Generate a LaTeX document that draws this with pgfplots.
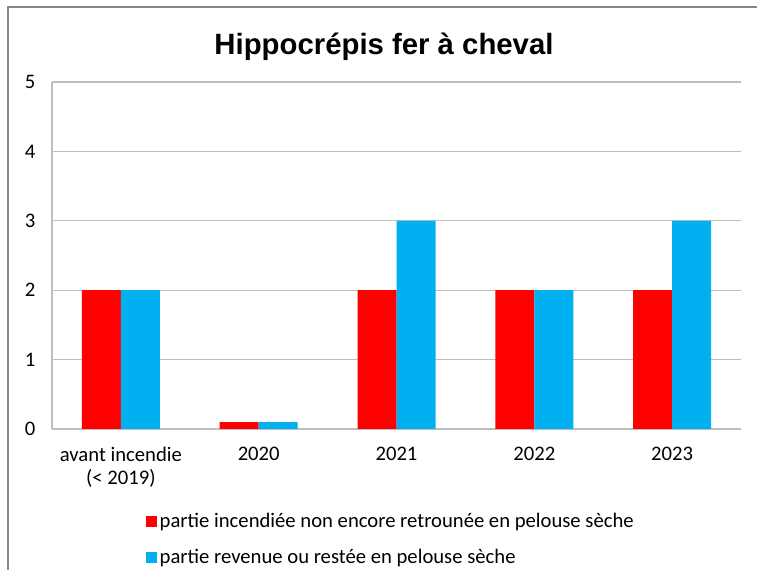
\documentclass[border=0pt]{standalone}
\usepackage{pgfplots}
\pgfplotsset{compat=1.18}
\usepackage{fontspec}
\setmainfont{Carlito}
\newfontfamily\titlefont{Liberation Sans}
\definecolor{barred}{RGB}{255,0,0}
\definecolor{barblue}{RGB}{0,176,240}
\definecolor{gridgray}{RGB}{190,190,190}
\definecolor{framegray}{RGB}{134,134,134}

\begin{document}
\begin{tikzpicture}
% page is 757x570 px at 0.75pt per px
\useasboundingbox (0,0) rectangle (567.75pt,427.5pt);
\fill[white] (0,0) rectangle (567.75pt,427.5pt);
\draw[framegray, line width=1.8pt] (6pt,-2pt) -- (6pt,422.25pt) -- (570pt,422.25pt);
\node[font=\titlefont\bfseries\fontsize{22}{24}\selectfont] at (288pt,392.5pt) {Hippocrépis fer à cheval};

\begin{axis}[
    at={(39pt,105.75pt)}, anchor=south west,
    scale only axis,
    width=516.75pt, height=260.25pt,
    ybar=0pt, bar width=29.25pt,
    xmin=-0.5, xmax=4.5,
    ymin=0, ymax=5,
    xtick={0,1,2,3,4},
    xticklabels={{avant incendie\\(< 2019)},2020,2021,2022,2023},
    xticklabel style={align=center, text depth=0pt},
    ytick={0,1,2,3,4,5},
    axis x line*=bottom, axis y line*=left,
    axis line style={gridgray, line width=0.9pt, -},
    major tick length=0pt,
    ymajorgrids, grid style={gridgray, line width=0.9pt},
    tick label style={font=\fontsize{15.5}{17.5}\selectfont},
    /pgf/number format/assume math mode=true,
    x tick label style={yshift=-10pt},
    y tick label style={xshift=-9pt},
    legend style={draw=none, fill=none, at={(0.13,-0.226)}, anchor=north west,
        font=\fontsize{15.5}{18}\selectfont, row sep=10.75pt, cells={anchor=west}},
    legend image code/.code={\fill[#1] (0pt,-4.2pt) rectangle (8.4pt,4.2pt);},
]
\addplot[fill=barred, draw=none] coordinates {(0,2) (1,0.1) (2,2) (3,2) (4,2)};
\addplot[fill=barblue, draw=none] coordinates {(0,2) (1,0.1) (2,3) (3,2) (4,3)};
\legend{partie incendiée non encore retrounée en pelouse sèche, partie revenue ou restée en pelouse sèche}
\end{axis}
\end{tikzpicture}
\end{document}
